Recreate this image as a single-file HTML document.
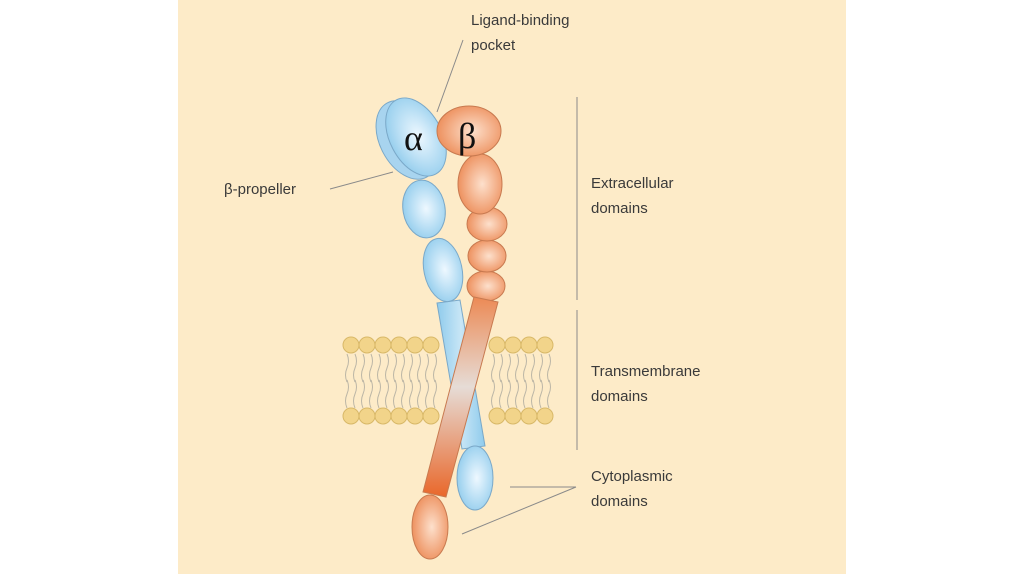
<!DOCTYPE html>
<html><head><style>
html,body{margin:0;padding:0;background:#fff;}
svg{display:block}
text{font-family:"Liberation Sans",sans-serif;fill:#3a3a3a;font-size:15px}
</style></head><body>
<svg width="1024" height="574" viewBox="0 0 1024 574" xmlns="http://www.w3.org/2000/svg">
<defs>
<radialGradient id="bl" cx="0.55" cy="0.5" r="0.6"><stop offset="0" stop-color="#eef8ff"/><stop offset="1" stop-color="#8fcbec"/></radialGradient>
<radialGradient id="or" cx="0.55" cy="0.5" r="0.6"><stop offset="0" stop-color="#fde0cc"/><stop offset="1" stop-color="#ec8a55"/></radialGradient>
<linearGradient id="rod" x1="0" y1="0" x2="0" y2="1"><stop offset="0" stop-color="#ec8a55"/><stop offset="0.45" stop-color="#e6dcd6"/><stop offset="1" stop-color="#e9672a"/></linearGradient>
<linearGradient id="brod" x1="0" y1="0" x2="1" y2="0"><stop offset="0" stop-color="#8fcbec"/><stop offset="0.5" stop-color="#c8e6f6"/><stop offset="1" stop-color="#8fcbec"/></linearGradient>
</defs>
<rect x="178" y="0" width="668" height="574" fill="#fdebc8"/>
<!-- lipid tails -->
<g stroke="#bcb6a6" stroke-width="1" fill="none">
<path d="M347 354 q3 7 0 14 q-3 7 0 14 M355 354 q3 7 0 14 q-3 7 0 14 M363 354 q3 7 0 14 q-3 7 0 14 M371 354 q3 7 0 14 q-3 7 0 14 M379 354 q3 7 0 14 q-3 7 0 14 M387 354 q3 7 0 14 q-3 7 0 14 M395 354 q3 7 0 14 q-3 7 0 14 M403 354 q3 7 0 14 q-3 7 0 14 M411 354 q3 7 0 14 q-3 7 0 14 M419 354 q3 7 0 14 q-3 7 0 14 M427 354 q3 7 0 14 q-3 7 0 14 M435 354 q3 7 0 14 q-3 7 0 14 M493 354 q3 7 0 14 q-3 7 0 14 M501 354 q3 7 0 14 q-3 7 0 14 M509 354 q3 7 0 14 q-3 7 0 14 M517 354 q3 7 0 14 q-3 7 0 14 M525 354 q3 7 0 14 q-3 7 0 14 M533 354 q3 7 0 14 q-3 7 0 14 M541 354 q3 7 0 14 q-3 7 0 14 M549 354 q3 7 0 14 q-3 7 0 14"/>
<path d="M347 380 q3 7 0 14 q-3 7 0 14 M355 380 q3 7 0 14 q-3 7 0 14 M363 380 q3 7 0 14 q-3 7 0 14 M371 380 q3 7 0 14 q-3 7 0 14 M379 380 q3 7 0 14 q-3 7 0 14 M387 380 q3 7 0 14 q-3 7 0 14 M395 380 q3 7 0 14 q-3 7 0 14 M403 380 q3 7 0 14 q-3 7 0 14 M411 380 q3 7 0 14 q-3 7 0 14 M419 380 q3 7 0 14 q-3 7 0 14 M427 380 q3 7 0 14 q-3 7 0 14 M435 380 q3 7 0 14 q-3 7 0 14 M493 380 q3 7 0 14 q-3 7 0 14 M501 380 q3 7 0 14 q-3 7 0 14 M509 380 q3 7 0 14 q-3 7 0 14 M517 380 q3 7 0 14 q-3 7 0 14 M525 380 q3 7 0 14 q-3 7 0 14 M533 380 q3 7 0 14 q-3 7 0 14 M541 380 q3 7 0 14 q-3 7 0 14 M549 380 q3 7 0 14 q-3 7 0 14"/>
</g>
<g fill="#f2d48a" stroke="#d8b868" stroke-width="1">
<circle cx="351" cy="345" r="8"/><circle cx="367" cy="345" r="8"/><circle cx="383" cy="345" r="8"/><circle cx="399" cy="345" r="8"/><circle cx="415" cy="345" r="8"/><circle cx="431" cy="345" r="8"/>
<circle cx="497" cy="345" r="8"/><circle cx="513" cy="345" r="8"/><circle cx="529" cy="345" r="8"/><circle cx="545" cy="345" r="8"/>
<circle cx="351" cy="416" r="8"/><circle cx="367" cy="416" r="8"/><circle cx="383" cy="416" r="8"/><circle cx="399" cy="416" r="8"/><circle cx="415" cy="416" r="8"/><circle cx="431" cy="416" r="8"/>
<circle cx="497" cy="416" r="8"/><circle cx="513" cy="416" r="8"/><circle cx="529" cy="416" r="8"/><circle cx="545" cy="416" r="8"/>
</g>
<!-- blue chain -->
<g stroke="#7aa8c8" stroke-width="1">
<polygon points="437,303 460,300 485,446 462,449" fill="url(#brod)"/>
<ellipse cx="424" cy="209" rx="21" ry="29" transform="rotate(-10 424 209)" fill="url(#bl)"/>
<ellipse cx="443" cy="270" rx="19" ry="32" transform="rotate(-12 443 270)" fill="url(#bl)"/>
<ellipse cx="475" cy="478" rx="18" ry="32" fill="url(#bl)"/>
<ellipse cx="407" cy="140" rx="27" ry="42" transform="rotate(-28 407 140)" fill="#a8d4ef"/>
<ellipse cx="416" cy="137" rx="26" ry="42" transform="rotate(-28 416 137)" fill="url(#bl)"/>
</g>
<!-- orange chain -->
<g stroke="#c87a50" stroke-width="1">
<ellipse cx="486" cy="286" rx="19" ry="15" fill="url(#or)"/>
<ellipse cx="487" cy="256" rx="19" ry="16" fill="url(#or)"/>
<ellipse cx="487" cy="224" rx="20" ry="17" fill="url(#or)"/>
<ellipse cx="480" cy="184" rx="22" ry="30" fill="url(#or)"/>
<polygon points="474,297 498,302 446,497 423,492" fill="url(#rod)"/>
<ellipse cx="430" cy="527" rx="18" ry="32" fill="url(#or)"/>
<ellipse cx="469" cy="131" rx="32" ry="25" fill="url(#or)"/>
</g>
<text x="404" y="150" style="font-family:'Liberation Serif',serif;font-size:36px;fill:#111">α</text>
<text x="458" y="148" style="font-family:'Liberation Serif',serif;font-size:36px;fill:#111">β</text>
<!-- leaders -->
<g stroke="#8a8a8a" stroke-width="1" fill="none">
<line x1="437" y1="112" x2="463" y2="40"/>
<line x1="330" y1="189" x2="393" y2="172"/>
<line x1="577" y1="97" x2="577" y2="300"/>
<line x1="577" y1="310" x2="577" y2="450"/>
<line x1="510" y1="487" x2="576" y2="487"/>
<line x1="462" y1="534" x2="576" y2="487"/>
</g>
<text x="471" y="25">Ligand-binding</text>
<text x="471" y="50">pocket</text>
<text x="224" y="194">β-propeller</text>
<text x="591" y="188">Extracellular</text>
<text x="591" y="213">domains</text>
<text x="591" y="376">Transmembrane</text>
<text x="591" y="401">domains</text>
<text x="591" y="481">Cytoplasmic</text>
<text x="591" y="506">domains</text>
</svg>
</body></html>
